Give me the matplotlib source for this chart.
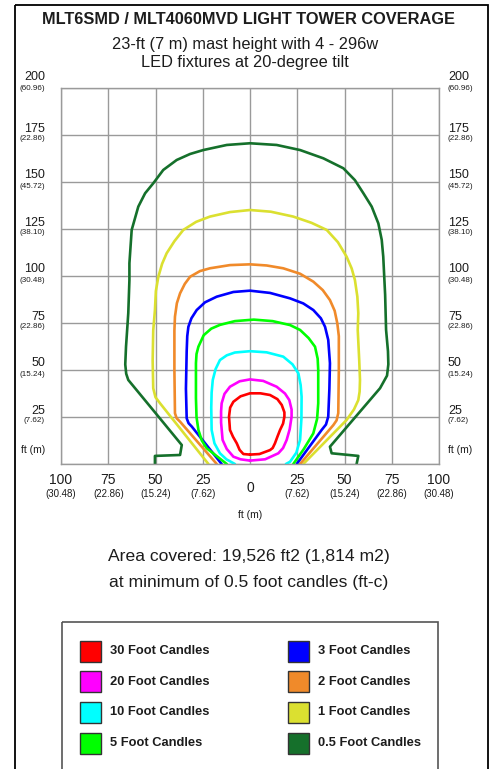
import matplotlib.pyplot as plt
from matplotlib.patches import Rectangle

plt.rcParams['font.family'] = ['Liberation Sans', 'DejaVu Sans']

# contour lines, feet (x across, y away from tower)
fc05_x = [-50.3, -50.3, -37, -36.1, -49.9, -64.4, -65.5, -66, -65.6, -65, -64.4, -63.8, -63.8, -62.6,
          -59.1, -55.5, -51.2, -45.9, -38.8, -31.7, -24.7, -12.3, 0, 14.1, 26.5, 38.8, 49.4, 55.5,
          60, 64.4, 67.9, 69.7, 70.5, 71.5, 72, 73, 73.2, 72.5, 68.8, 42.3, 43.2, 57.3, 56.4]
fc05_y = [0, 4.3, 4.8, 10.1, 27, 44.7, 48, 53, 62.4, 71.3, 80.3, 97.9, 106.8, 124.5,
          136.9, 144, 149.3, 156.4, 161.7, 164.9, 167, 169.7, 170.6, 169.7, 167, 162.6, 157.3, 151,
          144, 136.9, 128, 119.2, 110.3, 90, 71.3, 60, 53, 47, 40.3, 9.2, 5.7, 4.3, 0]

fc1_x = [-22, -47.6, -50, -51.2, -51.5, -51.2, -50.3, -49.8, -48.5, -46.5, -44.1, -40, -35.3, -28.5,
         -21.2, -10.6, 0, 11, 22.9, 32.5, 40.6, 46.5, 51.1, 53.8, 55.5, 56.8, 57.3, 57, 57.8, 58.2,
         58, 57.3, 55, 51.1, 28.2]
fc1_y = [0, 32.3, 35.5, 40.3, 55, 71, 81.9, 92, 99.6, 106.5, 112.1, 118.5, 124.5, 128.8,
         131.6, 134, 135.1, 134.2, 131.6, 128.3, 124.5, 118, 110.3, 104, 97.9, 89, 80.2, 71.3, 55, 44.7,
         38.5, 34, 29, 23.4, 0]

fc2_x = [-17.6, -37, -38.8, -39.7, -40, -40, -39.7, -38.7, -37, -34.5, -31.7, -26.5, -21.2, -10.6,
         0, 8.8, 17.6, 26.5, 33.5, 38.5, 42.3, 44.8, 46.2, 47, 47, 46.7, 45.8, 44.1, 26.5]
fc2_y = [0, 22.5, 24.3, 27, 50, 71, 78.4, 85.5, 90.8, 95.8, 99.6, 102.6, 104.1, 105.8,
         106.2, 105.6, 104.1, 101.2, 97, 92.5, 87.2, 81.5, 74.8, 68, 50, 27, 23.2, 20.7, 0]

fc3_x = [-15, -30.8, -32.5, -33.5, -33.9, -33.5, -33.2, -32.6, -31, -28.2, -23.8, -17.6, -8.8, 0,
         10.6, 21.2, 28.2, 33.5, 37.5, 39.7, 41.4, 42.3, 42, 41.4, 40.2, 37.9, 24.7]
fc3_y = [0, 19.9, 21.7, 24.3, 40, 60, 68, 73, 77.5, 81.9, 86, 89, 91.5, 92.2,
         91, 88.1, 85.4, 81.9, 77.5, 73, 66, 53.6, 40, 25.2, 21, 18.1, 0]

fc5_x = [-12.3, -18, -22.9, -25.5, -27.3, -28.3, -28.6, -28.6, -28.3, -27.3, -24.5, -20.5, -15.9, -8,
         2, 12, 21.2, 26.5, 31, 34.4, 35.8, 36.1, 36.1, 35.5, 33.5, 28.5, 22.9]
fc5_y = [0, 4.5, 8.4, 12.5, 18.1, 25, 35, 53.6, 58.5, 62.4, 68.5, 72, 74, 76,
         76.8, 76, 73.9, 71.3, 67, 62.4, 56, 50, 32.3, 24, 16.3, 8, 0]

fc10_x = [-8, -12.5, -15.9, -18.8, -20.3, -20.5, -20.3, -19.7, -18.2, -15.9, -12.3, -8, 0, 8.8,
          17.6, 22.5, 25.6, 26.8, 27.3, 27.2, 26.5, 24.5, 21.2, 19]
fc10_y = [0, 2.5, 5.7, 11, 18.1, 30, 38, 44.7, 50.5, 55.3, 57.8, 59.3, 60, 59.4,
          57.1, 53, 48.2, 42, 35.8, 24, 12.8, 6, 1.2, 0]

fc20_x = [0, -5, -8.8, -12.3, -14.5, -15.3, -15.3, -15, -13.5, -10.6, -5.5, 0, 7, 14.1,
          18.5, 20.8, 22, 22, 21, 19.4, 17.5, 15, 8, 0]
fc20_y = [1.8, 2.5, 3.9, 8, 12.8, 22, 28, 32.3, 37.3, 41.1, 44, 45, 44.2, 41.1,
          37.5, 34, 29, 25.2, 18.5, 12.8, 8.5, 5.7, 2.5, 1.8]

fc30_x = [0, -3.5, -5.5, -7, -9, -10.6, -11.1, -10.5, -8.8, -5, 0, 5.5, 10.6, 14.5,
          16.8, 18.2, 18.2, 17.5, 15.9, 14.5, 13.2, 12, 10.6, 5, 0]
fc30_y = [5, 5.3, 7.5, 11, 14.5, 18.1, 25.2, 30, 33.1, 36, 37.6, 37.6, 36.7, 34.5,
          31.4, 27.5, 25.2, 21.5, 18.1, 14.5, 11, 8.5, 7.4, 5.3, 5]

levels = ["30 Foot Candles", "20 Foot Candles", "10 Foot Candles", "5 Foot Candles",
          "3 Foot Candles", "2 Foot Candles", "1 Foot Candles", "0.5 Foot Candles"]
colors = ["#ff0000", "#ff00ff", "#00ffff", "#00ff00", "#0000ff", "#f08a2a", "#dbe030", "#15702b"]
lines = [(fc30_x, fc30_y), (fc20_x, fc20_y), (fc10_x, fc10_y), (fc5_x, fc5_y),
         (fc3_x, fc3_y), (fc2_x, fc2_y), (fc1_x, fc1_y), (fc05_x, fc05_y)]

y_ticks = [200, 175, 150, 125, 100, 75, 50, 25]
y_metric = ["(60.96)", "(22.86)", "(45.72)", "(38.10)", "(30.48)", "(22.86)", "(15.24)", "(7.62)"]
x_ticks = [-100, -75, -50, -25, 0, 25, 50, 75, 100]
x_metric = ["(30.48)", "(22.86)", "(15.24)", "(7.62)", "", "(7.62)", "(15.24)", "(22.86)", "(30.48)"]

W, H = 492, 769
fig = plt.figure(figsize=(W / 100, H / 100), dpi=100)

# page overlay in pixel coordinates
bg = fig.add_axes([0, 0, 1, 1])
bg.set_xlim(0, W)
bg.set_ylim(H, 0)
bg.axis('off')
bg.add_patch(Rectangle((15, 5), 473, 780, fill=False, ec='black', lw=1.3))
bg.add_patch(Rectangle((62, 622), 376, 160, fill=False, ec='#555555', lw=1.2))

txt = '#1c1c1c'
bg.text(249, 20, "MLT6SMD / MLT4060MVD LIGHT TOWER COVERAGE", ha='center', va='center',
        fontsize=11.8, fontweight='bold', color=txt)
bg.text(245, 44, "23-ft (7 m) mast height with 4 - 296w", ha='center', va='center', fontsize=11.8, color=txt)
bg.text(245, 63, "LED fixtures at 20-degree tilt", ha='center', va='center', fontsize=11.8, color=txt)
bg.text(249, 557, "Area covered: 19,526 ft2 (1,814 m2)", ha='center', va='center', fontsize=12.6, color=txt)
bg.text(249, 582, "at minimum of 0.5 foot candles (ft-c)", ha='center', va='center', fontsize=12.6, color=txt)

# legend
for i, (lab, c) in enumerate(zip(levels, colors)):
    col, row = divmod(i, 4)
    x0 = 80 + col * 208
    yc = 651 + row * 30.7
    bg.add_patch(Rectangle((x0, yc - 10.5), 21, 21, fc=c, ec='#333333', lw=1))
    bg.text(x0 + 30, yc, lab, ha='left', va='center', fontsize=9.3, fontweight='bold', color=txt)

# chart
ax = fig.add_axes([61 / W, 1 - 464 / H, 378 / W, 376 / H])
ax.set_xlim(-100, 100)
ax.set_ylim(0, 200)
ax.set_xticks(x_ticks)
ax.set_yticks([0] + y_ticks)
ax.grid(True, color='#9a9a9a', lw=1)
ax.tick_params(length=0, labelbottom=False, labelleft=False)
for s in ax.spines.values():
    s.set_color('#9a9a9a')
    s.set_linewidth(1)
ax.set_axisbelow(True)

for (xs, ys), c in zip(lines[::-1], colors[::-1]):
    ax.plot(xs, ys, color=c, lw=1.9, solid_joinstyle='round', solid_capstyle='round')

for v, m in zip(y_ticks, y_metric):
    dy = 4 if v == 200 else 0
    for xa, ha, dx in [(0, 'right', -16), (1, 'left', 9)]:
        ax.annotate(str(v), xy=(xa, v), xycoords=('axes fraction', 'data'), xytext=(dx, 6.5 + dy),
                    textcoords='offset pixels', ha=ha, va='center', fontsize=9, color=txt,
                    annotation_clip=False)
        ax.annotate(m, xy=(xa, v), xycoords=('axes fraction', 'data'), xytext=(dx, -4 + dy),
                    textcoords='offset pixels', ha=ha, va='center', fontsize=5.8, color=txt,
                    annotation_clip=False)

for xa, ha, dx in [(0, 'right', -16), (1, 'left', 9)]:
    ax.annotate("ft (m)", xy=(xa, 0), xycoords='axes fraction', xytext=(dx, 14),
                textcoords='offset pixels', ha=ha, va='center', fontsize=7.5, color=txt)

for v, m in zip(x_ticks, x_metric):
    if v == 0:
        ax.annotate("0", xy=(v, 0), xycoords=('data', 'axes fraction'), xytext=(0, -24),
                    textcoords='offset pixels', ha='center', va='center', fontsize=10, color=txt,
                    annotation_clip=False)
        continue
    ax.annotate(str(abs(v)), xy=(v, 0), xycoords=('data', 'axes fraction'), xytext=(0, -16),
                textcoords='offset pixels', ha='center', va='center', fontsize=10, color=txt,
                annotation_clip=False)
    ax.annotate(m, xy=(v, 0), xycoords=('data', 'axes fraction'), xytext=(0, -30),
                textcoords='offset pixels', ha='center', va='center', fontsize=7, color=txt,
                annotation_clip=False)
ax.annotate("ft (m)", xy=(0.5, 0), xycoords='axes fraction', xytext=(0, -51),
            textcoords='offset pixels', ha='center', va='center', fontsize=7.5, color=txt)

fig.savefig("out.png", dpi=100)
